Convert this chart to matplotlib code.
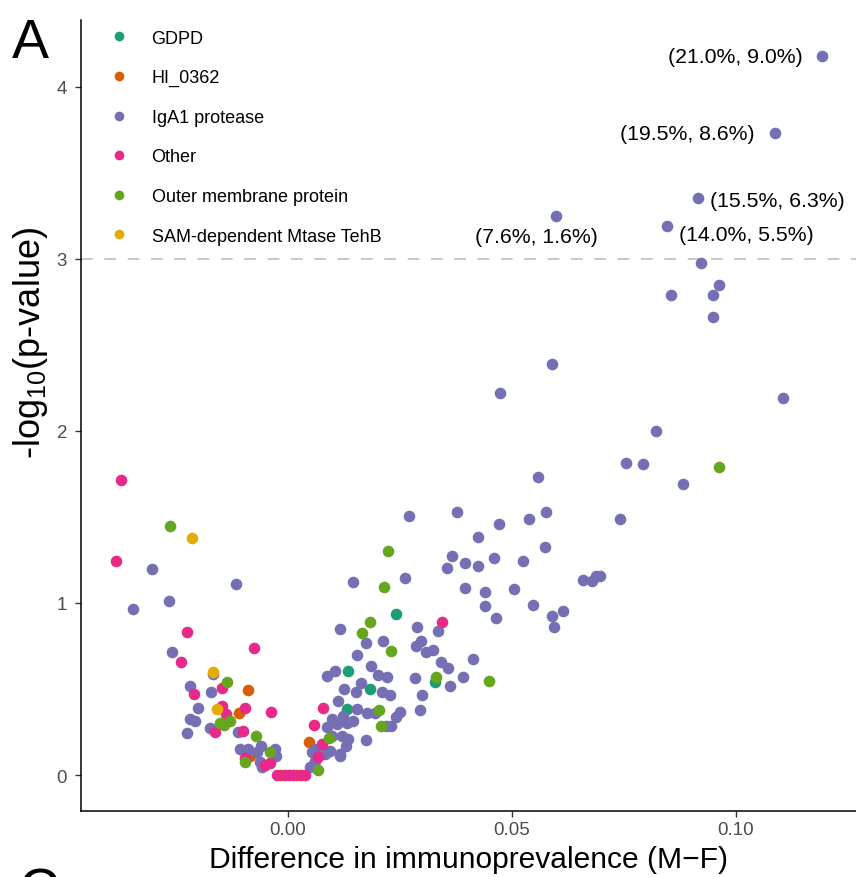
import matplotlib
matplotlib.use("Agg")
import matplotlib.pyplot as plt
from matplotlib.lines import Line2D

plt.rcParams['font.family'] = ['Liberation Sans', 'DejaVu Sans']

# difference in immunoprevalence (M-F) and -log10(p-value), per protein group
gdpd_x = [0.0241, 0.0135, 0.0183, 0.0132, 0.0328]
gdpd_y = [0.938, 0.603, 0.500, 0.384, 0.539]

hi0362_x = [-0.0089, -0.0109, -0.0085, 0.0047, -0.0016, 0.0020]
hi0362_y = [0.494, 0.360, 0.112, 0.190, 0.0, 0.0]

iga1_x = [0.1192, 0.1087, 0.0915, 0.0847, 0.0599, 0.0923, 0.0961, 0.0949, 0.0856, 0.0949,
          0.1106, 0.0821, 0.0754, 0.0792, 0.0882, 0.0741, 0.0658, 0.0679, 0.0688, 0.0696,
          0.0613, 0.0589, 0.0473, 0.0557, 0.0271, 0.0377, 0.0471, 0.0537, 0.0575, 0.0423,
          0.0573, 0.0366, 0.0356, 0.0395, 0.0423, 0.0460, 0.0525, 0.0261, 0.0394, 0.0440,
          0.0505, 0.0440, 0.0465, 0.0547, 0.0590, 0.0594, 0.0335, 0.0288, 0.0213, 0.0297,
          0.0286, 0.0307, 0.0324, 0.0412, 0.0342, 0.0358, 0.0220, 0.0284, 0.0391, 0.0362,
          0.0209, 0.0228, 0.0300, 0.0295, 0.0250, 0.0241, 0.0146, 0.0117, 0.0174, 0.0155,
          0.0088, 0.0106, 0.0185, 0.0200, 0.0163, 0.0126, 0.0152, 0.0112, 0.0153, 0.0176,
          0.0194, 0.0123, 0.0098, 0.0109, 0.0131, 0.0146, 0.0086, 0.0219, 0.0231, 0.0099,
          0.0120, 0.0135, 0.0129, 0.0116, 0.0174, 0.0094, 0.0060, 0.0053, 0.0057, 0.0049,
          0.0060, 0.0082, 0.0116,
          -0.0304, -0.0117, -0.0265, -0.0347, -0.0258, -0.0168, -0.0219, -0.0171, -0.0200,
          -0.0208, -0.0218, -0.0225, -0.0174, -0.0111, -0.0061, -0.0089, -0.0070, -0.0029,
          -0.0027, -0.0063, -0.0059, -0.0107]
iga1_y = [4.180, 3.730, 3.355, 3.190, 3.250, 2.977, 2.850, 2.790, 2.790, 2.660,
          2.190, 2.000, 1.814, 1.806, 1.690, 1.490, 1.135, 1.128, 1.155, 1.159,
          0.955, 2.390, 2.220, 1.730, 1.506, 1.530, 1.460, 1.486, 1.529, 1.385,
          1.327, 1.273, 1.205, 1.230, 1.217, 1.263, 1.242, 1.147, 1.085, 1.066,
          1.083, 0.984, 0.911, 0.988, 0.924, 0.858, 0.835, 0.860, 0.780, 0.780,
          0.748, 0.717, 0.728, 0.672, 0.659, 0.620, 0.571, 0.564, 0.571, 0.520,
          0.484, 0.467, 0.465, 0.378, 0.366, 0.335, 1.122, 0.851, 0.767, 0.696,
          0.576, 0.603, 0.632, 0.582, 0.535, 0.500, 0.481, 0.432, 0.384, 0.360,
          0.360, 0.345, 0.326, 0.297, 0.305, 0.315, 0.277, 0.283, 0.283, 0.228,
          0.228, 0.209, 0.170, 0.122, 0.203, 0.141, 0.151, 0.132, 0.064, 0.045,
          0.080, 0.120, 0.112,
          1.196, 1.109, 1.010, 0.965, 0.713, 0.587, 0.519, 0.481, 0.387,
          0.316, 0.325, 0.245, 0.271, 0.248, 0.170, 0.151, 0.132, 0.151,
          0.109, 0.074, 0.045, 0.151]

other_x = [-0.0373, -0.0385, -0.0226, -0.0077, -0.0238, -0.0148, -0.0210, -0.0148, -0.0138,
           -0.0097, -0.0039, -0.0163, -0.0100, -0.0096, -0.0051, -0.0040, 0.0344, 0.0077,
           0.0057, 0.0075, 0.0066, -0.0025, -0.0007, 0.0002, 0.0011, 0.0029, 0.0038]
other_y = [1.715, 1.246, 0.833, 0.736, 0.659, 0.504, 0.471, 0.403, 0.355,
           0.387, 0.368, 0.248, 0.256, 0.100, 0.058, 0.070, 0.890, 0.390,
           0.290, 0.183, 0.103, 0.0, 0.0, 0.0, 0.0, 0.0, 0.0]

omp_x = [-0.0263, -0.0137, -0.0144, -0.0129, -0.0152, -0.0071, -0.0040, -0.0096, 0.0223,
         0.0214, 0.0184, 0.0165, 0.0231, 0.0330, 0.0449, 0.0202, 0.0208, 0.0092, 0.0068,
         0.0961]
omp_y = [1.450, 0.543, 0.291, 0.316, 0.305, 0.225, 0.132, 0.074, 1.300,
         1.091, 0.890, 0.827, 0.723, 0.571, 0.548, 0.378, 0.287, 0.217, 0.031,
         1.790]

tehb_x = [-0.0214, -0.0167, -0.0159]
tehb_y = [1.375, 0.600, 0.384]

groups = ['GDPD', 'HI_0362', 'IgA1 protease', 'Other', 'Outer membrane protein',
          'SAM-dependent Mtase TehB']
colors = ['#1B9E77', '#D95F02', '#7570B3', '#E7298A', '#66A61E', '#E6AB02']

# labelled IgA1 protease points: index -> (male %, female %)
labels = {0: '(21.0%, 9.0%)', 1: '(19.5%, 8.6%)', 2: '(15.5%, 6.3%)',
          3: '(14.0%, 5.5%)', 4: '(7.6%, 1.6%)'}

fig = plt.figure(figsize=(8.56, 8.78), dpi=100)
ax = fig.add_axes([81 / 856, 66 / 878, 775 / 856, 791 / 878])

ax.axhline(3, color='#BEBEBE', lw=1.2, dashes=(7, 7), zorder=1)

data = [(gdpd_x, gdpd_y), (hi0362_x, hi0362_y), (iga1_x, iga1_y),
        (other_x, other_y), (omp_x, omp_y), (tehb_x, tehb_y)]
for (xs, ys), c in zip(data, colors):
    ax.scatter(xs, ys, s=70, color=c, linewidths=0, zorder=2)

offsets = {0: (-13.5, 0, 'right'), 1: (-15, 0, 'right'), 2: (9, -1.5, 'left'),
           3: (8, -6, 'left'), 4: (-14, -14.5, 'center')}
for i, txt in labels.items():
    dx, dy, ha = offsets[i]
    ax.annotate(txt, (iga1_x[i], iga1_y[i]), xytext=(dx, dy), textcoords='offset points',
                ha=ha, va='center', fontsize=15.3, color='black')

ax.set_xlim(-0.04621, 0.12679)
ax.set_ylim(-0.2093, 4.3895)
ax.set_xticks([0.0, 0.05, 0.10])
ax.set_xticklabels(['0.00', '0.05', '0.10'])
ax.set_yticks([0, 1, 2, 3, 4])
ax.tick_params(labelsize=13.5, labelcolor='#4D4D4D', color='#333333', length=4, width=1)
ax.tick_params(axis='y', pad=6)
for side in ['top', 'right']:
    ax.spines[side].set_visible(False)
for side in ['left', 'bottom']:
    ax.spines[side].set_linewidth(1.1)

ax.set_xlabel('Difference in immunoprevalence (M\u2212F)', fontsize=21.6, labelpad=5)
ax.set_ylabel(r'-log$_{\mathregular{10}}$(p-value)', fontsize=26)
ax.yaxis.set_label_coords(-31 / 775, (812 - 343) / 791)

handles = [Line2D([], [], marker='o', linestyle='none', markersize=7, markeredgewidth=0,
                  color=c) for c in colors]
ax.legend(handles, groups, loc='upper left', bbox_to_anchor=(110 / 856, 1 - 30.5 / 878),
          bbox_transform=fig.transFigure, frameon=False, fontsize=13, handlelength=1.0,
          handletextpad=1.3, labelspacing=1.25, borderpad=0, borderaxespad=0)

fig.text(12 / 856, 1 - 18 / 878, 'A', fontsize=40, va='top', ha='left')
fig.text(18 / 856, 10 / 878, 'C', fontsize=40, va='top', ha='left')

fig.savefig('out.png', dpi=100)
